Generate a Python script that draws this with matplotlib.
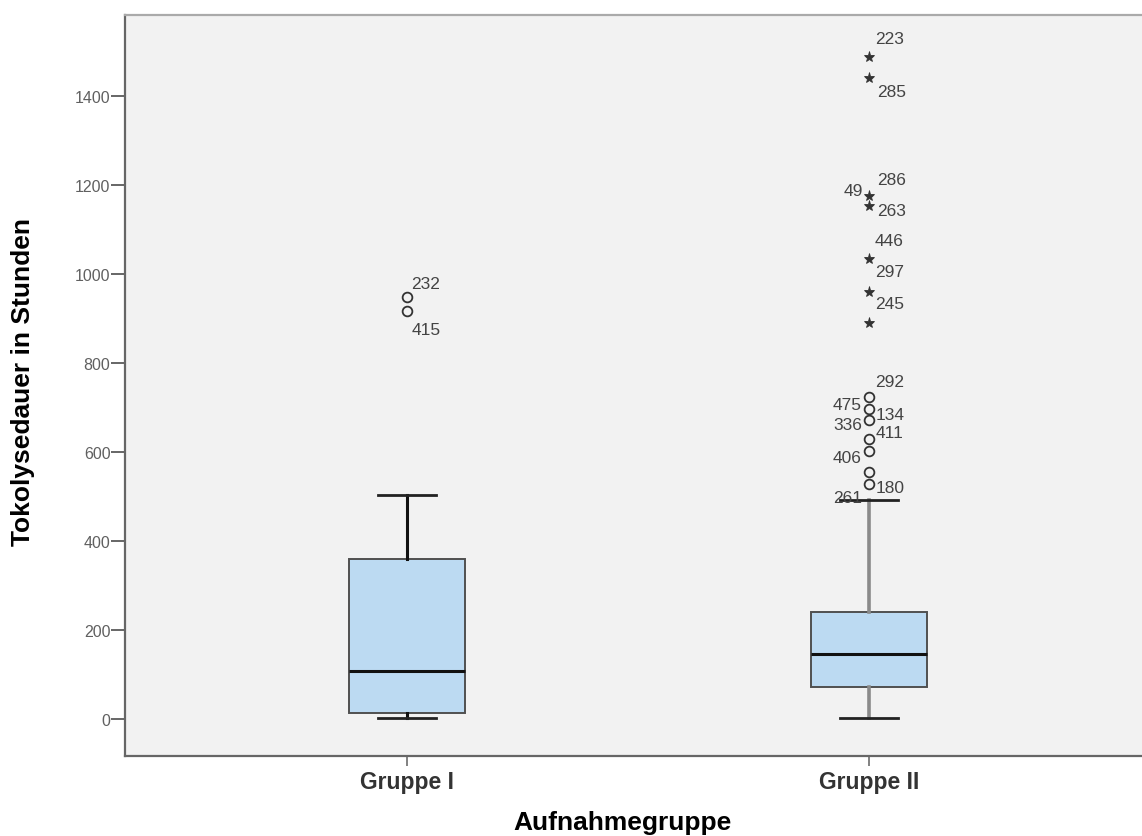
import matplotlib
matplotlib.use("Agg")
import matplotlib.pyplot as plt

plt.rcParams['font.family'] = ['Liberation Sans', 'DejaVu Sans']

# Boxplot summary per admission group (hours)
groups = ["Gruppe I", "Gruppe II"]
q1 = [13, 73]
median = [108, 146]
q3 = [359, 240]
whisker_low = [2, 2]
whisker_high = [504, 493]

# Mild outliers (circles) and extreme outliers (stars)
circles_I = [947, 916]
circles_II = [723, 696, 672, 629, 603, 554, 528]
stars_II = [1487, 1439, 1175, 1151, 1032, 960, 889]

# Case numbers written next to the outliers: (index of point, label)
circle_I_ids = [(0, "232"), (1, "415")]
circle_II_ids = [(0, "292"), (0, "475"), (1, "134"), (2, "336"),
                 (3, "411"), (4, "406"), (6, "180"), (6, "261")]
star_II_ids = [(0, "223"), (1, "285"), (2, "286"), (2, "49"), (3, "263"),
               (4, "446"), (4, "297"), (5, "245")]

# label offsets in pixels (dx, dy, horizontal alignment)
circle_I_off = [(4, 14, "left"), (5, -18, "left")]
circle_II_off = [(6, 16, "left"), (-7, -7, "right"), (7, -5, "left"),
                 (-7, -5, "right"), (7, 6, "left"), (-7, -7, "right"),
                 (7, -4, "left"), (-7, -14, "right")]
star_II_off = [(6, 18, "left"), (8, -13, "left"), (8, 16, "left"),
               (-6, 5, "right"), (8, -4, "left"), (6, 19, "left"),
               (6, -12, "left"), (6, -12, "left")]

fig = plt.figure(figsize=(11.42, 8.37), dpi=100)
ax = fig.add_axes([125 / 1142, 80 / 837, 1 - 125 / 1142, 741 / 837])
ax.set_facecolor("#f2f2f2")

pos = [1, 2]
stats = []
for i in range(2):
    stats.append(dict(med=median[i], q1=q1[i], q3=q3[i],
                      whislo=whisker_low[i], whishi=whisker_high[i], fliers=[]))

bp = ax.bxp(stats, positions=pos, widths=0.25, capwidths=0.125, patch_artist=True,
            showfliers=False,
            boxprops=dict(facecolor="#bcdaf2", edgecolor="#505050", linewidth=1.4),
            medianprops=dict(color="#111111", linewidth=2.2),
            whiskerprops=dict(color="#111111", linewidth=2.2),
            capprops=dict(color="#222222", linewidth=2.0))
# second group's whisker stems render lighter
for w in bp["whiskers"][2:]:
    w.set_color("#8a8a8a")
    w.set_linewidth(2.6)

ax.plot([pos[0]] * len(circles_I), circles_I, "o", mfc="none", mec="#333333",
        ms=7, mew=1.3, zorder=4)
ax.plot([pos[1]] * len(circles_II), circles_II, "o", mfc="none", mec="#333333",
        ms=7, mew=1.3, zorder=4)
ax.plot([pos[1]] * len(stars_II), stars_II, "*", color="#333333",
        ms=8, mew=0.6, zorder=4)


def label_points(xpos, values, ids, offsets):
    for (idx, txt), (dx, dy, ha) in zip(ids, offsets):
        ax.annotate(txt, (xpos, values[idx]), xytext=(dx, dy),
                    textcoords="offset pixels", ha=ha, va="center",
                    fontsize=12.5, color="#444444")


label_points(pos[0], circles_I, circle_I_ids, circle_I_off)
label_points(pos[1], circles_II, circle_II_ids, circle_II_off)
label_points(pos[1], stars_II, star_II_ids, star_II_off)

ax.set_xlim(0.39, 2.591)
ax.set_ylim(-83, 1581)
ax.set_yticks(range(0, 1401, 200))
ax.set_xticks(pos)
ax.set_xticklabels(groups, fontweight="bold", fontsize=16.5, color="#333333")
ax.tick_params(axis="y", labelsize=11.5, labelcolor="#606060", color="#666666",
               length=10, width=1.4, pad=0.5)
ax.tick_params(axis="x", color="#777777", length=7, width=1.3, pad=3)

for side in ["left", "bottom"]:
    ax.spines[side].set_color("#666666")
    ax.spines[side].set_linewidth(1.6)
ax.spines["top"].set_color("#aaaaaa")
ax.spines["top"].set_linewidth(1.6)
ax.spines["right"].set_visible(False)

fig.text(622 / 1142, 2 / 837, "Aufnahmegruppe", ha="center", va="bottom",
         fontsize=19, fontweight="bold")
fig.text(23 / 1142, 1 - 382 / 837, "Tokolysedauer in Stunden", ha="center",
         va="center", rotation=90, fontsize=19, fontweight="bold")

fig.savefig("out.png", dpi=100)
